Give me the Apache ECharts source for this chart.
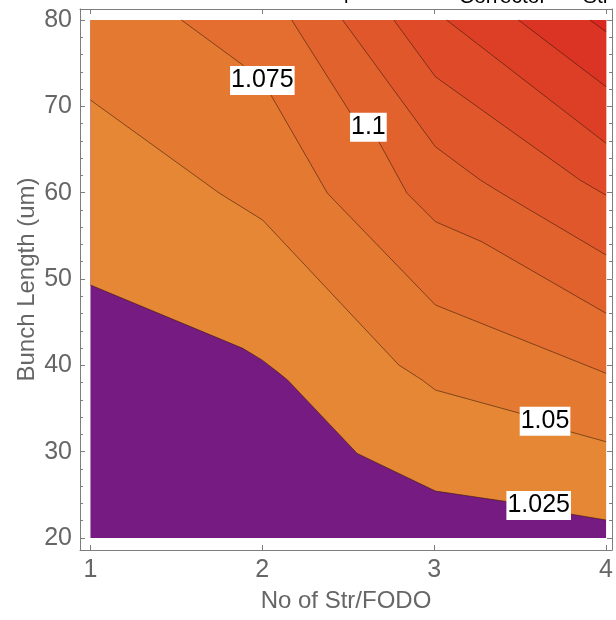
<!DOCTYPE html>
<html><head><meta charset="utf-8">
<script src="https://cdn.jsdelivr.net/npm/echarts@6/dist/echarts.min.js"></script>
<style>html,body{margin:0;padding:0;background:#fff;overflow:hidden}#c{width:616px;height:620px}</style>
</head><body><div id="c"></div>
<script>
// ---- data ----
const xTicks = [1, 2, 3, 4];
const yTicks = [20, 30, 40, 50, 60, 70, 80];
const yMinorTicks = [22,24,26,28,32,34,36,38,42,44,46,48,52,54,56,58,62,64,66,68,72,74,76,78];
const xRange = [1, 4];
const yRange = [20, 80];
const levels = [1.025, 1.05, 1.075, 1.1, 1.125, 1.15, 1.175, 1.2, 1.225];

// contour lines (x = No of Str/FODO, y = Bunch Length)
const c1025 = [[1.0,49.3],[1.886,41.97],[2.0,40.6],[2.099,39.07],[2.147,38.3],[2.552,29.8],[3.007,25.44],[3.428,24.2],[3.79,22.78],[4.0,22.08]];
const c1050 = [[1.0,70.73],[1.751,59.93],[2.002,56.83],[2.794,40.04],[2.93,38.3],[3.007,37.14],[3.5,34.44],[3.79,32.31],[4.0,31.15]];
const c1075 = [[1.529,80],[1.886,74.79],[2.05,71.31],[2.379,59.93],[3.007,46.99],[4.0,39.08]];
const c1100 = [[2.171,80],[2.514,69.19],[2.678,65.9],[2.842,59.93],[3.007,56.64],[3.277,54.32],[4.0,46.03]];
const c1125 = [[2.467,80],[3.007,65.32],[3.268,61.47],[3.393,59.93],[4.0,52.78]];
const c1150 = [[2.765,80],[3.007,73.43],[3.848,61.47],[4.0,59.7]];
const c1175 = [[3.072,80],[4.0,65.72]];
const c1200 = [[3.49,80],[4.0,72.27]];
const c1225 = [[3.906,80],[4.0,78.64]];
const contours = [c1025, c1050, c1075, c1100, c1125, c1150, c1175, c1200, c1225];

// fill colour of each band, lowest first
const bandColors = ['#761B82','#E58734','#E47A32','#E36E30','#E2622D','#E0572B','#DF4B29','#DD3F26','#DB3324','#D92722'];

// contour labels
const labelTexts = ['1.025', '1.05', '1.075', '1.1'];
const labelPos = [[3.608,23.76],[3.645,33.52],[2.0,72.99],[2.617,67.58]];

// ---- build ----
const FONT = 'Liberation Sans, Arial, Helvetica, sans-serif';
const frameColor = '#7d7d7d';
const textColor = '#666666';

// polygons: whole plot rect, then region above each contour
const polygons = [[[xRange[0],yRange[0]],[xRange[1],yRange[0]],[xRange[1],yRange[1]],[xRange[0],yRange[1]]]];
contours.forEach(c => {
  const p = c.slice();
  p.push([xRange[1], yRange[1]]);
  if (c[0][0] === xRange[0]) p.push([xRange[0], yRange[1]]);
  polygons.push(p);
});

const xPadL = 10.5 / 172.5, xPadR = 6 / 172.5;
const yPadB = 12 / 8.6333, yPadT = 11 / 8.6333;
const xMin = xRange[0] - xPadL, xMax = xRange[1] + xPadR;
const yMin = yRange[0] - yPadB, yMax = yRange[1] + yPadT;

const chart = echarts.init(document.getElementById('c'), null, {renderer: 'canvas'});

const series = [];
series.push({
  type: 'custom',
  silent: true,
  z: 1,
  data: polygons.map((p, i) => i),
  renderItem: function (params, api) {
    const i = api.value(0);
    const pts = polygons[i].map(pt => api.coord(pt));
    return { type: 'polygon', shape: { points: pts }, style: { fill: bandColors[i], stroke: null } };
  },
  encode: { x: 0, y: 0 },
  clip: false
});
contours.forEach((c, i) => {
  series.push({
    type: 'line', data: c, showSymbol: false, silent: true, z: 3,
    lineStyle: { color: 'rgba(50,20,5,0.55)', width: 1 },
    animation: false
  });
});
series.push({
  type: 'custom', silent: true, z: 5,
  data: labelPos,
  renderItem: function (params, api) {
    const pt = api.coord([api.value(0), api.value(1)]);
    return {
      type: 'text',
      x: pt[0], y: pt[1],
      style: {
        text: labelTexts[params.dataIndex],
        font: '25px ' + FONT,
        fill: '#000',
        align: 'center', verticalAlign: 'middle',
        backgroundColor: '#ffffff',
        padding: [2, 1, 2, 1]
      }
    };
  }
});

const tickStyle = { color: frameColor, width: 1 };
const option = {
  animation: false,
  backgroundColor: '#ffffff',
  grid: { left: 80, right: 2, top: 9, bottom: 70 },
  xAxis: [
    {
      type: 'value', min: xMin, max: xMax, position: 'bottom',
      axisLine: { show: true, lineStyle: tickStyle },
      axisTick: { show: true, inside: true, length: 5, customValues: xTicks, lineStyle: tickStyle },
      axisLabel: { customValues: xTicks, color: textColor, fontSize: 25, fontFamily: FONT, margin: 8 },
      splitLine: { show: false },
      name: 'No of Str/FODO', nameLocation: 'middle', nameGap: 39, nameMoveOverlap: false,
      nameTextStyle: { color: textColor, fontSize: 24, fontFamily: FONT }
    },
    {
      type: 'value', min: xMin, max: xMax, position: 'top',
      axisLine: { show: true, lineStyle: tickStyle },
      axisTick: { show: true, inside: true, length: 5, customValues: xTicks, lineStyle: tickStyle },
      axisLabel: { show: false },
      splitLine: { show: false }
    }
  ],
  yAxis: [
    {
      type: 'value', min: yMin, max: yMax, position: 'left',
      axisLine: { show: true, lineStyle: tickStyle },
      axisTick: { show: true, inside: true, length: 5, customValues: yTicks, lineStyle: tickStyle },
      axisLabel: { customValues: yTicks, color: textColor, fontSize: 25, fontFamily: FONT, margin: 8 },
      splitLine: { show: false },
      name: 'Bunch Length (um)', nameLocation: 'middle', nameGap: 41, nameMoveOverlap: false,
      nameTextStyle: { color: textColor, fontSize: 24, fontFamily: FONT }
    },
    {
      type: 'value', min: yMin, max: yMax, position: 'left',
      axisLine: { show: false },
      axisTick: { show: true, inside: true, length: 3, customValues: yMinorTicks, lineStyle: tickStyle },
      axisLabel: { show: false }, splitLine: { show: false }
    },
    {
      type: 'value', min: yMin, max: yMax, position: 'right',
      axisLine: { show: true, lineStyle: tickStyle },
      axisTick: { show: true, inside: true, length: 5, customValues: yTicks, lineStyle: tickStyle },
      axisLabel: { show: false }, splitLine: { show: false }
    },
    {
      type: 'value', min: yMin, max: yMax, position: 'right',
      axisLine: { show: false },
      axisTick: { show: true, inside: true, length: 3, customValues: yMinorTicks, lineStyle: tickStyle },
      axisLabel: { show: false }, splitLine: { show: false }
    }
  ],
  graphic: [
    { type: 'text', x: 344, y: -7, style: { text: 'p', font: '20px ' + FONT, fill: '#000', verticalAlign: 'middle' } },
    { type: 'text', x: 459, y: -3, style: { text: 'Corrector', font: '21px ' + FONT, fill: '#000', verticalAlign: 'middle' } },
    { type: 'text', x: 583, y: -3, style: { text: 'Str', font: '21px ' + FONT, fill: '#000', verticalAlign: 'middle' } }
  ],
  series: series
};
chart.setOption(option);
</script>
</body></html>
